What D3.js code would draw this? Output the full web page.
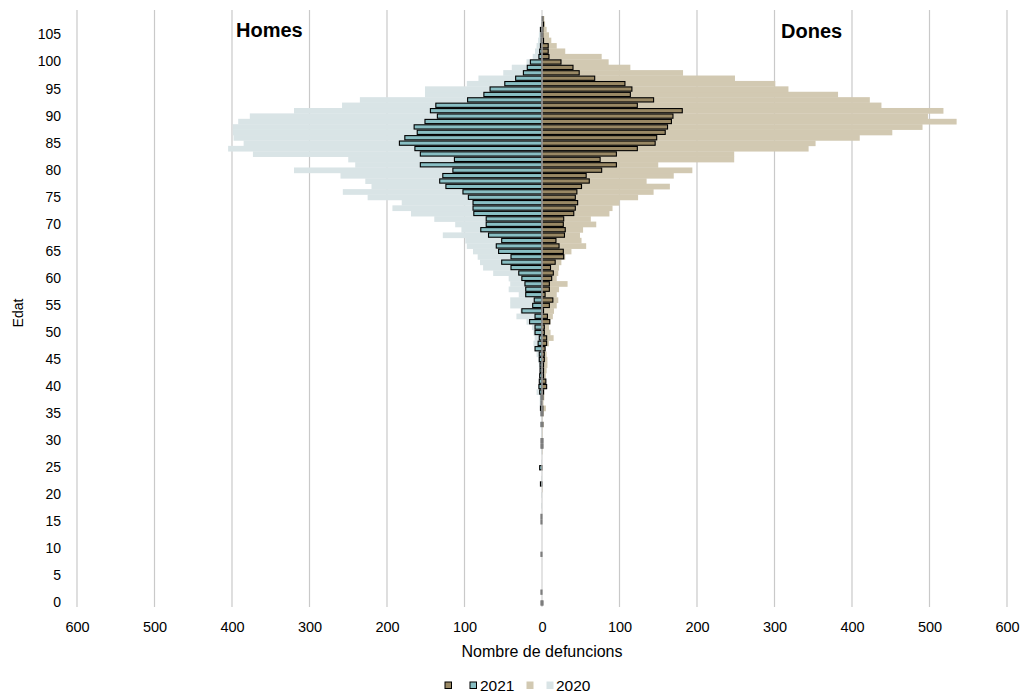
<!DOCTYPE html>
<html>
<head>
<meta charset="utf-8">
<script src="https://cdn.jsdelivr.net/npm/d3@7"></script>
<style>
html,body{margin:0;padding:0;background:#fff;}
svg text{font-family:"Liberation Sans",Arial,sans-serif;fill:#000;}
</style>
</head>
<body>
<svg id="chart" width="1023" height="693"></svg>
<script>
// ---- data (ages 0..109) ----
const ages = d3.range(0, 110);
const men2021 = [
 1,0,1,0,0,0,0,0,0,1,
 0,0,0,0,0,1,1,0,0,0,
 0,0,2,0,0,3,0,0,0,1,
 1,0,0,1,0,1,2,1,1,3,
 4,3.5,3,2.5,2.5,3.5,3.5,9,5,3.5,
 9,9,16,9,26,12,10,21,21,22,
 26,30,40,52,40,56,59,52,69,79,
 72,72,88,89,89,95,102,124,132,128,
 115,157,113,157,164,184,177,161,165,151,
 135,144,137,96,75,67,48,34,24,19,
 15,4,3,2,1,1,2,0,0,0];
const men2020 = [
 0,0,0,0,0,0,0,0,0,0,
 0,0,0,0,0,0,0,0,1,0,
 1,0,1,1,0,1,1,0,1,1,
 1,1,1,2,1,2,2,3,3,7,
 4,3,3,3,4,5,7,9,11,9.5,
 11,13,20,33,28,41,41,30,43,41,
 43,63,76,80,83,89,97,99,128,104,
 112,139,169,193,181,225,257,220,228,260,
 320,241,250,373,405,385,398,399,399,392,
 377,320,258,235,151,151,97,82,50,39,
 20,12,9,7,5,4,3,1,0,0];
const women2021 = [
 1,0,0,0,0,0,0,0,0,0,
 0,0,0,0,0,0,0,0,0,0,
 0,0,0,0,0,0,0,0,0,1,
 1,0,0,1,0,1,1,0,1,2,
 6,5,2,2,2,3,3,4,6,6,
 3,3,10,7,2,9.5,14,4,9.5,9.5,
 12.5,14.6,11,17,28,27.5,22,18,29,30,
 27.5,28,41,43,46,43,45,51,61,57,
 77,96,75,96,123,146,148,159,162,167,
 169,181,123,144,114,116,107,68,48,40,
 24.5,9,8,8,2,1,1,2,1,0];
const women2020 = [
 0,0,0,0,0,0,0,0,0,0,
 0,0,0,0,0,0,0,0,0,0,
 0,1,0,0,0,1,0,0,1,0,
 1,1,1,2,1,2,5,2,3,3,
 4,5,5,6,7,7,6,4,9,15,
 11,9,11,14,15.5,19,21,19,22,33,
 19,21,22,25,30,38,57,51,49,53,
 70,63,87,91,100,124,144,165,135,170,
 194,150,248,248,344,353,410,452,491,535,
 498,518,438,423,382,318,301,249,182,114,
 86,77,30,19,12,9,6,4,3,0];
const xTicks = [-600,-500,-400,-300,-200,-100,0,100,200,300,400,500,600];
const yTicks = d3.range(0, 110, 5);
const seriesLabels = ["2021", "2020"];

// ---- drawing ----
const colors = {w21:"#998864", m21:"#88bec3", w20:"#d2c9b2", m20:"#d9e4e6"};
const svg = d3.select("#chart");
const x = d3.scaleLinear().domain([-600, 600]).range([77, 1007]);
const y = d3.scaleBand().domain(ages).range([605.7, 10.6]).padding(0);
const bw = y.bandwidth();

// gridlines
svg.append("g").selectAll("line").data(xTicks.filter(d => d !== 0)).join("line")
  .attr("x1", d => x(d)).attr("x2", d => x(d))
  .attr("y1", 10).attr("y2", 607)
  .attr("stroke", "#c9c9c9").attr("stroke-width", 1.2);

// 2020 bars (full band, no outline)
svg.append("g").selectAll("rect").data(ages).join("rect")
  .attr("x", (d,i) => x(-men2020[i])).attr("y", d => y(d))
  .attr("width", (d,i) => x(0) - x(-men2020[i])).attr("height", bw + 0.3)
  .attr("fill", colors.m20);
svg.append("g").selectAll("rect").data(ages).join("rect")
  .attr("x", x(0)).attr("y", d => y(d))
  .attr("width", (d,i) => x(women2020[i]) - x(0)).attr("height", bw + 0.3)
  .attr("fill", colors.w20);

// 2021 bars (outlined, thinner)
const h21 = bw * 0.78, off21 = (bw - h21) / 2;
svg.append("g").selectAll("rect").data(ages.filter((d,i) => men2021[i] > 0)).join("rect")
  .attr("x", d => x(-men2021[d])).attr("y", d => y(d) + off21)
  .attr("width", d => x(0) - x(-men2021[d])).attr("height", h21)
  .attr("fill", colors.m21).attr("stroke", "#000").attr("stroke-width", 1.1);
svg.append("g").selectAll("rect").data(ages.filter((d,i) => women2021[i] > 0)).join("rect")
  .attr("x", x(0)).attr("y", d => y(d) + off21)
  .attr("width", d => x(women2021[d]) - x(0)).attr("height", h21)
  .attr("fill", colors.w21).attr("stroke", "#000").attr("stroke-width", 1.1);

// zero line on top
svg.append("line").attr("x1", x(0)).attr("x2", x(0)).attr("y1", 10).attr("y2", 607)
  .attr("stroke", "#d0d0d0").attr("stroke-width", 1.2);

// y axis
const yAxis = svg.append("g").attr("transform", `translate(${x(-600)},0)`)
  .call(d3.axisLeft(y).tickValues(yTicks).tickSize(0).tickPadding(16));
yAxis.select(".domain").remove();
yAxis.selectAll("text").style("font-size", "14px").attr("font-family", "Liberation Sans, Arial, sans-serif");

// x axis
const xAxis = svg.append("g").attr("transform", "translate(0,610)")
  .call(d3.axisBottom(x).tickValues(xTicks).tickFormat(d => Math.abs(d)).tickSize(0).tickPadding(12));
xAxis.select(".domain").remove();
xAxis.selectAll("text").style("font-size", "14.5px").attr("font-family", "Liberation Sans, Arial, sans-serif");

// titles
svg.append("text").attr("x", x(0)).attr("y", 657).attr("text-anchor", "middle")
  .style("font-size", "16px").text("Nombre de defuncions");
svg.append("text").attr("transform", "translate(23,313) rotate(-90)").attr("text-anchor", "middle")
  .style("font-size", "14px").text("Edat");
svg.append("text").attr("x", 236).attr("y", 37).style("font-size", "20px").style("font-weight", "bold").text("Homes");
svg.append("text").attr("x", 781).attr("y", 38).style("font-size", "20px").style("font-weight", "bold").text("Dones");

// legend
const lg = svg.append("g");
const sq = 6.5, ly = 682;
lg.append("rect").attr("x", 445).attr("y", ly).attr("width", sq).attr("height", sq)
  .attr("fill", colors.w21).attr("stroke", "#000").attr("stroke-width", 1);
lg.append("rect").attr("x", 470).attr("y", ly).attr("width", sq).attr("height", sq)
  .attr("fill", colors.m21).attr("stroke", "#000").attr("stroke-width", 1);
lg.append("text").attr("x", 480).attr("y", 690.5).style("font-size", "15.5px").text(seriesLabels[0]);
lg.append("rect").attr("x", 526.5).attr("y", ly - 0.5).attr("width", sq + 0.5).attr("height", sq + 1)
  .attr("fill", colors.w20);
lg.append("rect").attr("x", 546.5).attr("y", ly - 0.5).attr("width", sq + 0.5).attr("height", sq + 1)
  .attr("fill", colors.m20);
lg.append("text").attr("x", 556).attr("y", 690.5).style("font-size", "15.5px").text(seriesLabels[1]);
</script>
</body>
</html>
